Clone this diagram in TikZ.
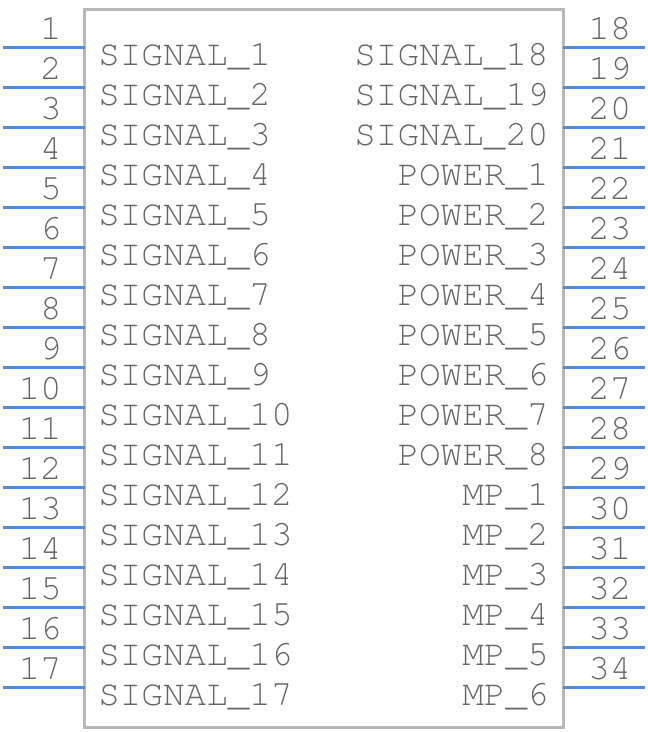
\documentclass[tikz,border=0pt]{standalone}
\usepackage{fontspec}
\setmonofont{TeX Gyre Cursor}
\usepackage{xcolor}
\definecolor{pinblue}{HTML}{4A8FE6}
\definecolor{boxgray}{HTML}{B8B8B8}
\definecolor{textgray}{HTML}{666666}
\tikzset{
  pinline/.style={draw=pinblue,line width=2.25pt},
  pinnum/.style={inner sep=0pt,text=textgray,font=\ttfamily\fontsize{27pt}{27pt}\selectfont},
  pinname/.style={inner sep=0pt,text=textgray,font=\ttfamily\fontsize{27pt}{27pt}\selectfont}
}
\begin{document}
\begin{tikzpicture}[x=0.75pt,y=-0.75pt]
	\useasboundingbox (0,0) rectangle (648,732);
	% draw the body of the part
	\coordinate (tl) at (84.5,9);
	\coordinate (br) at (563,727);
	\draw[draw=boxgray,line width=2.25pt] (tl) rectangle (br);

	% left pins 1..17
	\foreach \n [evaluate=\n as \y using {47+40*(\n-1)}] in {1,...,17} {
		\coordinate (l\n) at (3,\y);
		\coordinate (le\n) at (84.5,\y);
		\draw[pinline] (l\n) -- (le\n);
		\node[pinnum,anchor=base east] (ln\n) at (62,\y-8) {\n};
		\node[pinname,anchor=base west] (ls\n) at (98,\y+18) {SIGNAL\_\n};
	}

	% right pins 18..34
	\foreach \n/\name [evaluate=\n as \y using {47+40*(\n-18)}] in
		{18/SIGNAL\_18,19/SIGNAL\_19,20/SIGNAL\_20,
		 21/POWER\_1,22/POWER\_2,23/POWER\_3,24/POWER\_4,
		 25/POWER\_5,26/POWER\_6,27/POWER\_7,28/POWER\_8,
		 29/MP\_1,30/MP\_2,31/MP\_3,32/MP\_4,33/MP\_5,34/MP\_6} {
		\coordinate (r\n) at (645,\y);
		\coordinate (re\n) at (563,\y);
		\draw[pinline] (re\n) -- (r\n);
		\node[pinnum,anchor=base west] (rn\n) at (588,\y-8) {\n};
		\node[pinname,anchor=base east] (rs\n) at (549,\y+18) {\name};
	}
\end{tikzpicture}
\end{document}
